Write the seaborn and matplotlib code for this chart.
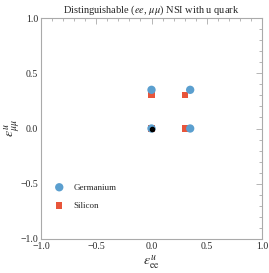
import seaborn as sns
import matplotlib.pyplot as plt
from matplotlib.ticker import MultipleLocator
import pandas as pd

sns.set_style("white")
plt.rcParams["font.family"] = ["Liberation Serif", "DejaVu Serif"]
plt.rcParams["mathtext.fontset"] = "stix"

# best-fit points
ge_x = [0.0, 0.35, 0.35, 0.0]
ge_y = [0.35, 0.35, 0.0, 0.0]
si_x = [0.0, 0.3, 0.3, 0.0]
si_y = [0.3, 0.3, 0.0, 0.0]
true_x = [0.0]
true_y = [0.0]

ge = pd.DataFrame({"x": ge_x, "y": ge_y})
si = pd.DataFrame({"x": si_x, "y": si_y})

fig = plt.figure(figsize=(2.69, 2.73), dpi=100)
ax = fig.add_axes([41 / 269, 1 - 239 / 273, 221 / 269, 221 / 273])

# silicon underneath, germanium on top
sns.scatterplot(data=si, x="x", y="y", marker="s", color="#e8553a", s=20,
                edgecolor="none", label="Silicon", ax=ax, zorder=3)
sns.scatterplot(data=ge, x="x", y="y", marker="o", color="#5b9fcf", s=36,
                edgecolor="none", label="Germanium", ax=ax, zorder=4)
ax.scatter(true_x, true_y, s=9, color="black", zorder=5)

ax.set_xlim(-1, 1)
ax.set_ylim(-1, 1)
ax.xaxis.set_major_locator(MultipleLocator(0.5))
ax.yaxis.set_major_locator(MultipleLocator(0.5))
ax.xaxis.set_minor_locator(MultipleLocator(0.1))
ax.yaxis.set_minor_locator(MultipleLocator(0.1))
ax.tick_params(which="both", direction="in", top=True, right=True,
               color="#aaaaaa", width=0.6)
ax.tick_params(which="major", length=4, labelsize=7, pad=2)
ax.tick_params(which="minor", length=2)
ax.set_xticklabels([f"{v:.1f}".replace("-", "\u2212") for v in ax.get_xticks()])
ax.set_yticklabels([f"{v:.1f}".replace("-", "\u2212") for v in ax.get_yticks()])
for sp in ax.spines.values():
    sp.set_color("#aaaaaa")
    sp.set_linewidth(0.8)

ax.set_xlabel(r"$\epsilon^{u}_{\mathrm{ee}}$", fontsize=10, labelpad=2)
ax.set_ylabel(r"$\epsilon^{u}_{\mu\mu}$", fontsize=10)
ax.yaxis.set_label_coords(-0.085, 0.5)
ax.set_title(r"Distinguishable ($ee$, $\mu\mu$) NSI with u quark", fontsize=7.5, pad=4)

handles, labels = ax.get_legend_handles_labels()
order = [labels.index("Germanium"), labels.index("Silicon")]
ax.legend([handles[i] for i in order], [labels[i] for i in order],
          loc="lower left", bbox_to_anchor=(0.005, 0.095), frameon=False,
          fontsize=6.5, handletextpad=0.6, labelspacing=1.1)

fig.savefig("out.png", dpi=100)
plt.close()
